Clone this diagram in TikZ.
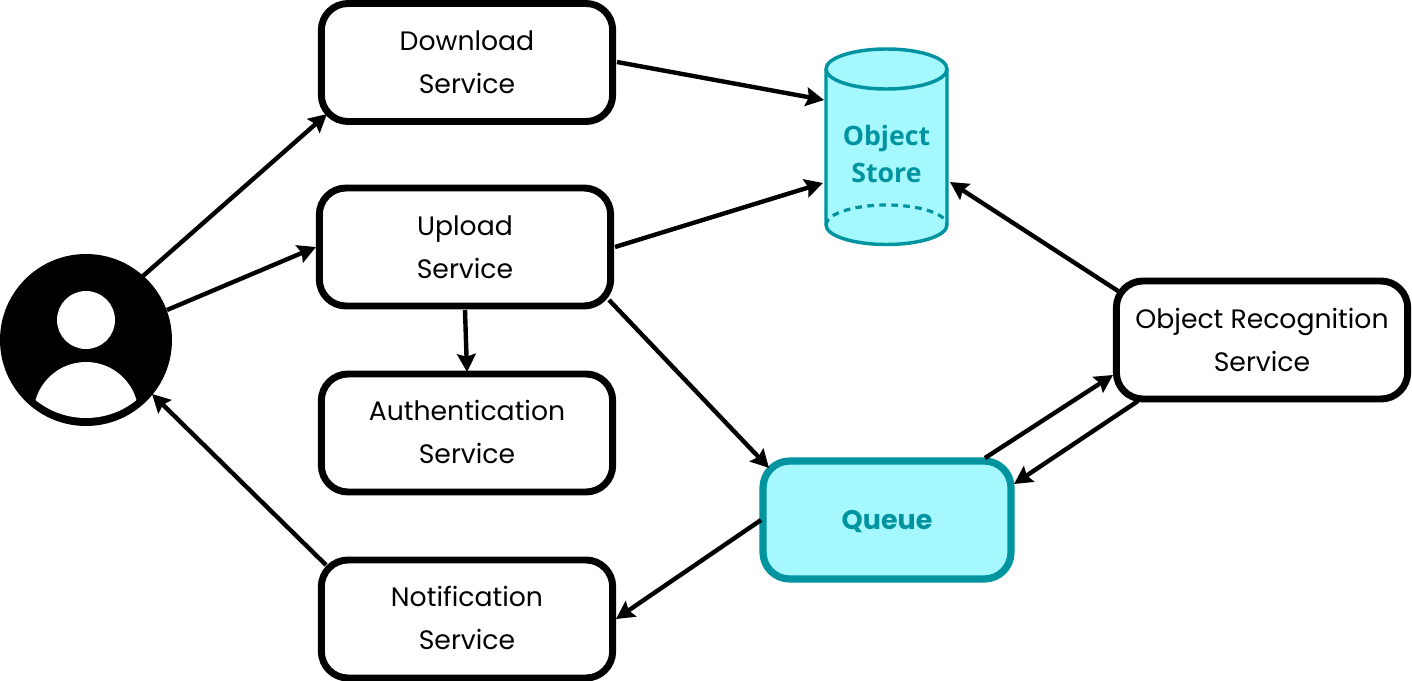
\documentclass[tikz,border=0pt]{standalone}
\usepackage{fontspec}
\setmainfont{Poppins}
\newfontfamily\storefont{Open Sans}
\usetikzlibrary{arrows.meta}
\definecolor{tealdark}{HTML}{0093A0}
\definecolor{tealfill}{HTML}{A6F8FF}
\newcommand{\nudge}[2]{\raisebox{#1}[\height][\depth]{#2}}
\tikzset{
  svcbox/.style={draw=black,line width=5.2pt,rounded corners=20pt,fill=white,inner sep=0pt,outer sep=0pt,
    minimum width=218.5pt,minimum height=88.5pt,align=center,font=\fontsize{20}{32.25}\selectfont},
  conn/.style={line width=3.3pt,-{Stealth[length=13.5pt,width=14pt,inset=2pt]}},
  anchorbox/.style={inner sep=0pt,outer sep=0pt,minimum width=92pt,minimum height=148pt},
  boldtext/.style={text=tealdark,align=center,inner sep=0pt,font=\fontsize{20}{27.75}\selectfont\storefont\bfseries},
}
\begin{document}
\begin{tikzpicture}[x=0.75pt,y=-0.75pt]
\useasboundingbox (0,0) rectangle (1412,681);
% user
\node[circle,fill=black,minimum size=129pt,inner sep=0pt,outer sep=0pt] (us) at (86,340) {};
\fill[white] (86,320) circle (29);
\begin{scope}
\clip (86,338) circle (80);
\fill[white] (86,414.5) circle (52.5);
\end{scope}
% service boxes
\node[svcbox] (dl) at (467,62.5) {Download\\Service};
\node[svcbox] (up) at (465,247) {Upload\\Service};
\node[svcbox] (au) at (467,433) {\nudge{0.75pt}{Authentication}\\\nudge{0.75pt}{Service}};
\node[svcbox] (no) at (467,619) {\nudge{0.75pt}{Notification}\\\nudge{0.75pt}{Service}};
\node[svcbox] (or) at (1262,340) {Object Recognition\\Service};
\node[svcbox,draw=tealdark,fill=tealfill,minimum width=186pt,line width=5.4pt,font=\fontsize{20.2}{27.75}\selectfont\bfseries,text=tealdark] (qu) at (887,520) {\nudge{-1.5pt}{Queue}};
% object store
\node[anchorbox] (st) at (886.5,147) {};
\filldraw[draw=tealdark,fill=tealfill,line width=2.6pt]
  (826,69) -- (826,225) arc[start angle=180,end angle=0,x radius=60.5,y radius=19.5] -- (947,69)
  arc[start angle=0,end angle=-180,x radius=60.5,y radius=20] -- cycle;
\draw[tealdark,line width=2.6pt] (826,69) arc[start angle=180,end angle=0,x radius=60.5,y radius=20];
\draw[tealdark,line width=2.4pt,dash pattern=on 5pt off 4pt] (826,225) arc[start angle=180,end angle=360,x radius=60.5,y radius=20];
\node[boldtext] (stl) at (886.5,153.7) {Object\\Store};
% connectors
\draw[conn] ([shift={(150,-0.5)}]dl.center) -- ([shift={(-62.5,-47)}]st.center);
\draw[conn] ([shift={(150,0)}]up.center) -- ([shift={(-63.5,36)}]st.center);
\draw[conn] ([shift={(57,-64)}]us.center) -- ([shift={(-140,51.5)}]dl.center);
\draw[conn] ([shift={(81,-30)}]us.center) -- ([shift={(-149,0)}]up.center);
\draw[conn] ([shift={(0,63)}]up.center) -- ([shift={(0,-61)}]au.center);
\draw[conn] ([shift={(144,53)}]up.center) -- ([shift={(-118,-52)}]qu.center);
\draw[conn] ([shift={(-126,0)}]qu.center) -- ([shift={(149,0)}]no.center);
\draw[conn] ([shift={(-141,-54)}]no.center) -- ([shift={(66,54)}]us.center);
\draw[conn] ([shift={(-144,-49)}]or.center) -- ([shift={(63.5,35)}]st.center);
\draw[conn] ([shift={(98,-62)}]qu.center) -- ([shift={(-149,35)}]or.center);
\draw[conn] ([shift={(-124,61)}]or.center) -- ([shift={(127,-36)}]qu.center);
\end{tikzpicture}
\end{document}
